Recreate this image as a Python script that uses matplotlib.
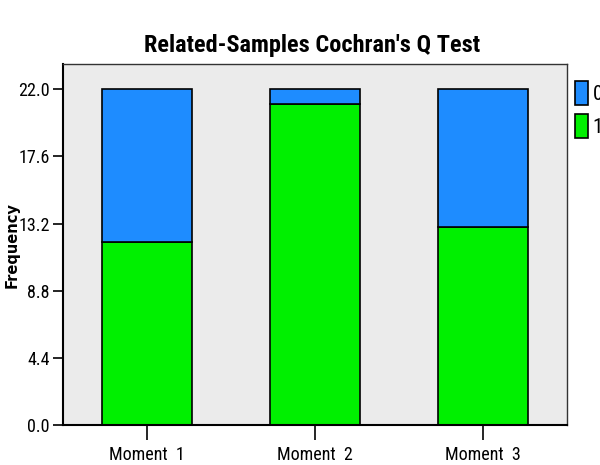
import numpy as np
import matplotlib
matplotlib.use("Agg")
import matplotlib.pyplot as plt

# values
moments = ["Moment  1", "Moment  2", "Moment  3"]
count_1 = [12, 21, 13]     # green, bottom
count_0 = [10, 1, 9]       # blue, top
y_ticks = [0.0, 4.4, 8.8, 13.2, 17.6, 22.0]

BLUE = "#1E8CFF"
GREEN = "#00F000"
NARROW = ["Roboto Condensed", "Archivo Narrow", "DejaVu Sans"]

fig = plt.figure(figsize=(6.0, 4.65), dpi=100)
ax = fig.add_axes([0.105, 0.086, 0.84, 0.776])
ax.set_facecolor("#EBEBEB")

x = np.arange(len(moments))
ax.bar(x, count_1, width=0.54, color=GREEN, edgecolor="black", linewidth=1.2, label="1")
ax.bar(x, count_0, width=0.54, bottom=count_1, color=BLUE, edgecolor="black",
       linewidth=1.2, label="0")

ax.set_xlim(-0.5, 2.5)
ax.set_ylim(0, 23.64)
ax.set_xticks(x)
ax.set_xticklabels(moments, family=NARROW, fontsize=13)
ax.set_yticks(y_ticks)
ax.set_yticklabels([f"{v:.1f}" for v in y_ticks], family=NARROW, fontsize=13)
ax.tick_params(axis="x", length=11, width=1.2, pad=4)
ax.tick_params(axis="y", length=7.5, width=1.2, pad=2)

for s in ["left", "bottom"]:
    ax.spines[s].set_linewidth(1.5)
for s in ["top", "right"]:
    ax.spines[s].set_linewidth(1.0)
    ax.spines[s].set_color("#333333")

ax.set_ylabel("Frequency", fontsize=10.5, fontweight="bold", family="DejaVu Sans")
ax.yaxis.set_label_coords(-0.086, 0.5)

fig.suptitle("Related-Samples Cochran's Q Test", x=0.52, y=0.903, va="center",
             fontsize=17.5, fontweight="bold", family=NARROW)

# legend with "0" (blue) on top, hanging off the right edge like the reference
h, l = ax.get_legend_handles_labels()
leg = ax.legend(h[::-1], l[::-1], loc="upper left", bbox_to_anchor=(1.016, 0.952),
                frameon=False, handlelength=0.6, handleheight=1.35,
                handletextpad=0.25, labelspacing=0.45, borderaxespad=0.0, borderpad=0.0,
                prop={"family": NARROW, "size": 15})
for p in leg.get_patches():
    p.set_linewidth(1.2)

fig.savefig("out.png", dpi=100)
